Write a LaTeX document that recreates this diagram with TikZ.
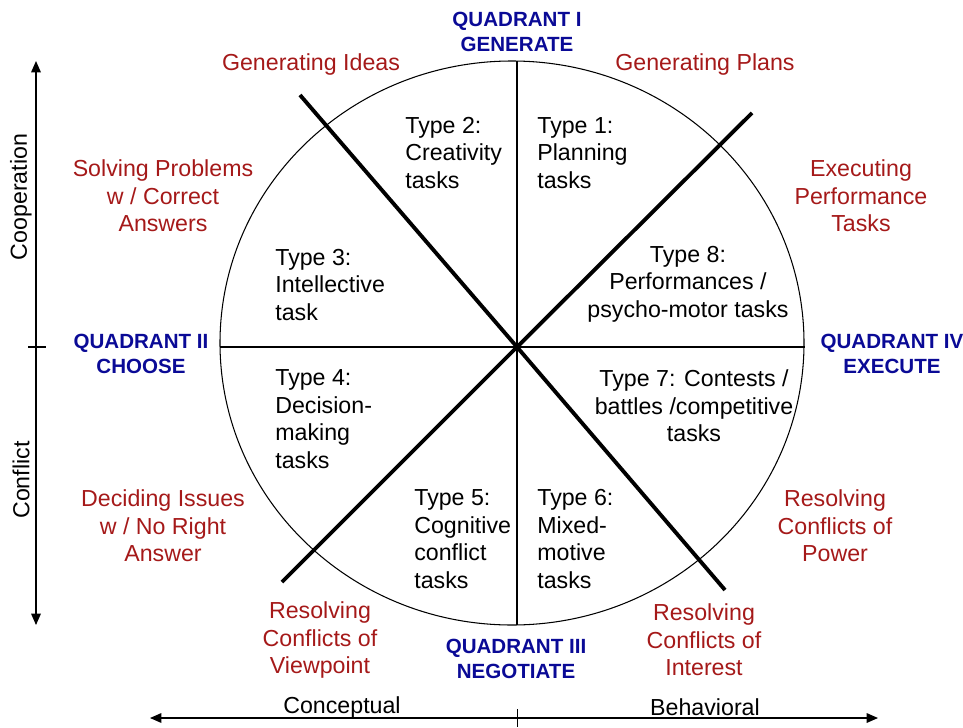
\documentclass[tikz,border=0pt]{standalone}
\usepackage{fontspec}
\setmainfont{Liberation Sans}
\usetikzlibrary{arrows.meta}

\definecolor{modered}{RGB}{165,25,25}
\definecolor{quadblue}{RGB}{10,10,150}

\tikzset{
  task/.style={font=\fontsize{13.2}{15.7}\selectfont, align=left, inner sep=0pt},
  mode/.style={task, align=center, text=modered},
  quad/.style={font=\bfseries\fontsize{11.7}{14.2}\selectfont, align=center, text=quadblue, inner sep=0pt},
  axis/.style={<->, line width=0.7pt, >={Triangle[width=5.5pt,length=6.5pt]}}
}

\begin{document}
\begin{tikzpicture}[x=0.02cm, y=-0.02cm]
            \useasboundingbox (0,0) rectangle (963,727);

            % circle and its cross
            \coordinate (ctr) at (517,347);
            \coordinate (rimW) at (220,347);
            \coordinate (rimE) at (805,347);
            \coordinate (rimN) at (517,61);
            \coordinate (rimS) at (517,625);
            \draw[line width=0.6pt] (512,343) ellipse [x radius=292, y radius=282];
            \draw[line width=0.6pt] (rimW) -- (rimE);
            \draw[line width=0.6pt] (rimN) -- (rimS);

            % the two bold diagonals
            \coordinate (nw) at (300,95);
            \coordinate (se) at (725,590);
            \coordinate (ne) at (752,113);
            \coordinate (sw) at (282,582);
            \draw[line width=2.2pt] (nw) -- (ctr) -- (se);
            \draw[line width=2.2pt] (ne) -- (ctr) -- (sw);

            % quadrant titles
            \node (q1) [quad] at (517,32) {QUADRANT I\\GENERATE};
            \node (q2) [quad] at (141,354) {QUADRANT II\\CHOOSE};
            \node (q3) [quad] at (516,659) {QUADRANT III\\NEGOTIATE};
            \node (q4) [quad] at (892,354) {QUADRANT IV\\EXECUTE};

            % group activities round the rim
            \node (ideas) [mode] at (311,65) {Generating Ideas};
            \node (plans) [mode] at (705,65) {Generating Plans};
            \node (solving) [mode] at (163,196) {Solving Problems\\w / Correct\\Answers};
            \node (executing) [mode] at (861,196) {Executing\\Performance\\Tasks};
            \node (deciding) [mode] at (163,526) {Deciding Issues\\w / No Right\\Answer};
            \node (power) [mode] at (835,526) {Resolving\\Conflicts of\\Power};
            \node (viewpoint) [mode] at (320,640) {Resolving\\Conflicts of\\Viewpoint};
            \node (interest) [mode] at (704,640) {Resolving\\Conflicts of\\Interest};

            % task types inside the circle
            \node (type1) [task, anchor=west] at (537,153) {Type 1:\\Planning\\tasks};
            \node (type2) [task, anchor=west] at (405,153) {Type 2:\\Creativity\\tasks};
            \node (type3) [task, anchor=west] at (275,285) {Type 3:\\Intellective\\task};
            \node (type4) [task, anchor=west] at (275,419) {Type 4:\\Decision-\\making\\tasks};
            \node (type5) [task, anchor=west] at (414,539) {Type 5:\\Cognitive\\conflict\\tasks};
            \node (type6) [task, anchor=west] at (537,539) {Type 6:\\Mixed-\\motive\\tasks};
            \node (type7) [task, align=center] at (694,406) {Type 7: Contests /\\battles /competitive\\tasks};
            \node (type8) [task, align=center] at (688,284) {Type 8:\\Performances /\\psycho-motor tasks};

            % side axis: cooperation / conflict
            \coordinate (coopEnd) at (36,61);
            \coordinate (confEnd) at (36,625);
            \coordinate (tickL) at (28,347);
            \coordinate (tickR) at (46,347);
            \draw[axis] (coopEnd) -- (confEnd);
            \draw[line width=0.7pt] (tickL) -- (tickR);
            \node (coop) [task, rotate=90] at (21,197) {Cooperation};
            \node (confl) [task, rotate=90] at (21,480) {Conflict};

            % bottom axis: conceptual / behavioral
            \coordinate (conEnd) at (150,718);
            \coordinate (behEnd) at (878,718);
            \coordinate (tickT) at (517,709);
            \coordinate (tickB) at (517,727);
            \draw[axis] (conEnd) -- (behEnd);
            \draw[line width=0.5pt] (tickT) -- (tickB);
            \node (concept) [task] at (342,707) {Conceptual};
            \node (behave) [task] at (705,707) {Behavioral};
        \end{tikzpicture}
\end{document}
